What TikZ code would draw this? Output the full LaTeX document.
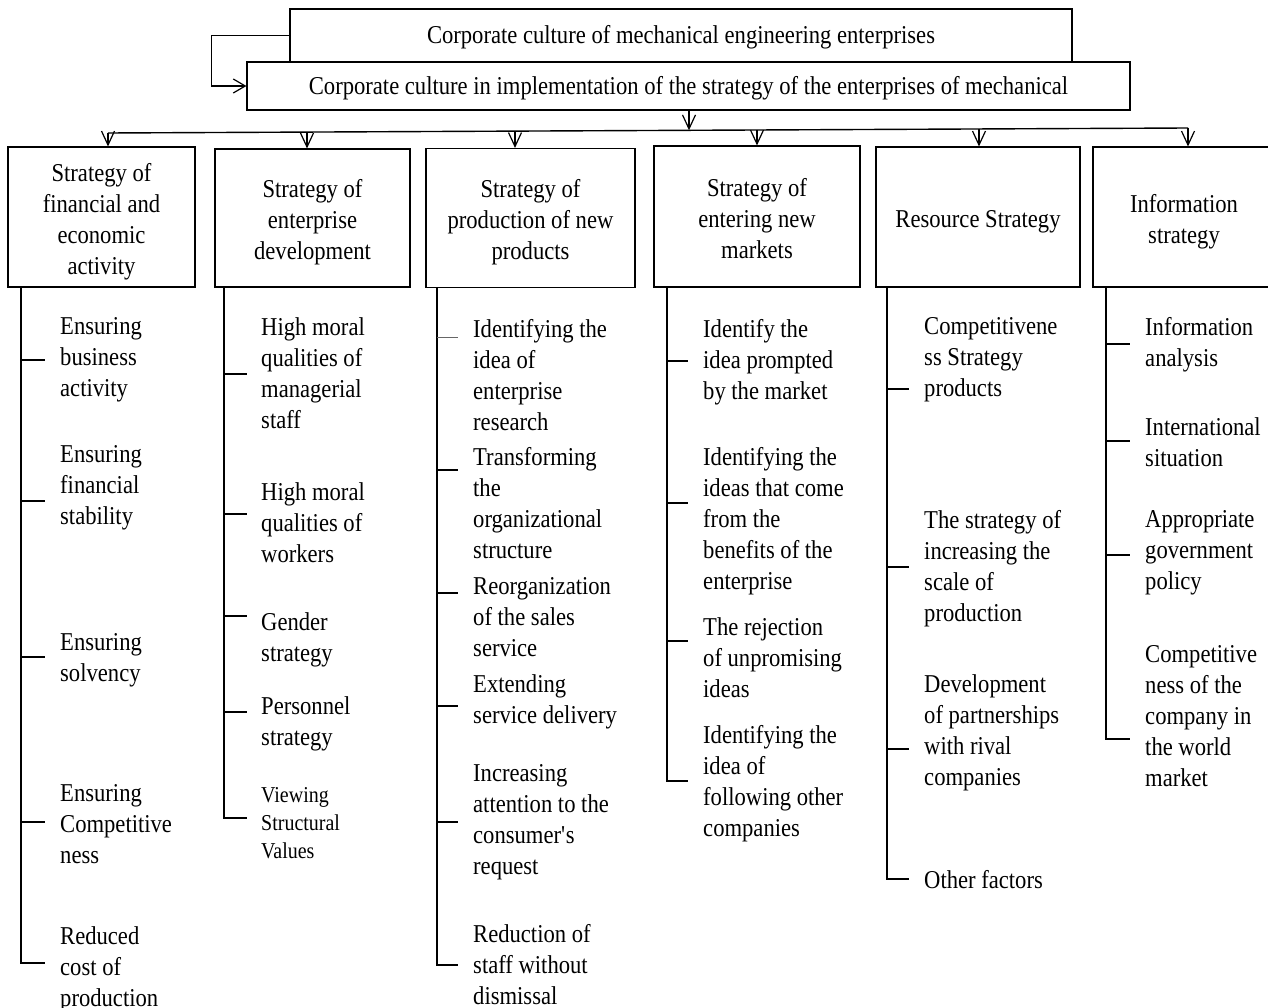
\documentclass[tikz,border=0pt]{standalone}
\usepackage{fontspec}
\setmainfont{Liberation Serif}[FakeStretch=0.88]
\usetikzlibrary{arrows.meta}
\newcommand{\fitem}{\fontsize{25.7}{31}\selectfont}
\newcommand{\fsmall}{\fontsize{22.7}{28}\selectfont}
\newcommand{\hd}[1]{\begin{tabular}{@{}c@{}}\rule{0pt}{30.7pt}#1\end{tabular}}
\begin{document}
\begin{tikzpicture}[x=1pt,y=-1pt,
  box/.style={draw, line width=1.1pt, inner sep=0pt, font=\fitem},
  topbox/.style={draw, line width=1.1pt, inner sep=0pt, align=center, font=\fitem, fill=white, execute at begin node={\rule{0pt}{22pt}}},
  itm/.style={anchor=north west, inner sep=0pt, align=left, font=\fitem, yshift=17.7pt, execute at begin node=\strut},
  itms/.style={anchor=north west, inner sep=0pt, align=left, font=\fsmall, yshift=15.6pt, execute at begin node=\strut},
  spine/.style={line width=1.4pt},
  tip/.style={line width=1.2pt, -{Straight Barb[length=14pt,width=13pt]}}]
\useasboundingbox (0,0) rectangle (1268,1008);

% top boxes
\node[topbox, minimum width=782, minimum height=53] (t1) at (681,35.5) {Corporate culture of mechanical engineering enterprises};
\node[topbox, minimum width=883, minimum height=48] (t2) at (688.5,86) {Corporate culture in implementation of the strategy of the enterprises of mechanical};
\draw[line width=1.2pt, -{Straight Barb[length=12pt,width=14pt]}] (t1.west) -- ++(-78,0) |- (t2.west);

% strategy boxes
\node[box, minimum width=187, minimum height=140] (h1) at (101.5,217) {\hd{Strategy of\\financial and\\economic\\activity}};
\node[box, minimum width=195, minimum height=138] (h2) at (312.5,218) {\hd{Strategy of\\enterprise\\development}};
\node[box, minimum width=209, minimum height=139] (h3) at (530.5,218) {\hd{Strategy of\\production of new\\products}};
\node[box, minimum width=206, minimum height=141] (h4) at (757,216.5) {\hd{Strategy of\\entering new\\markets}};
\node[box, minimum width=204, minimum height=140] (h5) at (978,217) {\hd{Resource Strategy}};
\node[box, minimum width=182, minimum height=140] (h6) at (1184,217) {\hd{Information\\strategy}};

% bus
\coordinate (b1) at (108,133);
\coordinate (b2) at (307,132.1);
\coordinate (b3) at (515,131.1);
\coordinate (bm) at (689,130.3);
\coordinate (b4) at (757,130);
\coordinate (b5) at (979,129);
\coordinate (b6) at (1188,128);
\draw[spine] (b1) -- (b6);
\draw[tip] (t2.south -| bm) -- (bm);
\foreach \b/\h in {b1/h1,b2/h2,b3/h3,b4/h4,b5/h5,b6/h6}
  \draw[tip] (\b) -- (\b |- \h.north);

% spines
\coordinate (s1) at (21,963);
\coordinate (s2) at (224,818);
\coordinate (s3) at (437,965);
\coordinate (s4) at (667,781);
\coordinate (s5) at (887,879);
\coordinate (s6) at (1106,739);
\draw[spine] (h1.south -| s1) -- (s1) -- ++(24,0);
\draw[spine] (h2.south -| s2) -- (s2) -- ++(23,0);
\draw[spine] (h3.south -| s3) -- (s3) -- ++(21,0);
\draw[spine] (h4.south -| s4) -- (s4) -- ++(21,0);
\draw[spine] (h5.south -| s5) -- (s5) -- ++(22,0);
\draw[spine] (h6.south -| s6) -- (s6) -- ++(24,0);
\foreach \y in {360,501,657,822} \draw[spine] (21,\y) -- (45,\y);
\foreach \y in {374,514,616,712} \draw[spine] (224,\y) -- (247,\y);
\draw[line width=0.8pt, black!60] (437,337) -- (458,337);
\foreach \y in {470,593,706,822} \draw[spine] (437,\y) -- (458,\y);
\foreach \y in {361,503,641} \draw[spine] (667,\y) -- (688,\y);
\foreach \y in {389,567,749} \draw[spine] (887,\y) -- (909,\y);
\foreach \y in {344,441,555} \draw[spine] (1106,\y) -- (1130,\y);

% column 1
\node[itm] (a1) at (60,335) {Ensuring\\business\\activity};
\node[itm] (a2) at (60,463) {Ensuring\\financial\\stability};
\node[itm] (a3) at (60,651) {Ensuring\\solvency};
\node[itm] (a4) at (60,802) {Ensuring\\Competitive\\ness};
\node[itm] (a5) at (60,944) {Reduced\\cost of\\production};
% column 2
\node[itm] (c1) at (261,335) {High moral\\qualities of\\managerial\\staff};
\node[itm] (c2) at (261,500) {High moral\\qualities of\\workers};
\node[itm] (c3) at (261,630) {Gender\\strategy};
\node[itm] (c4) at (261,714) {Personnel\\strategy};
\node[itms] (c5) at (261,803) {Viewing\\Structural\\Values};
% column 3
\node[itm] (d1) at (473,337) {Identifying the\\idea of\\enterprise\\research};
\node[itm] (d2) at (473,465) {Transforming\\the\\organizational\\structure};
\node[itm] (d3) at (473,595) {Reorganization\\of the sales\\service};
\node[itm] (d4) at (473,692) {Extending\\service delivery};
\node[itm] (d5) at (473,782) {Increasing\\attention to the\\consumer\textquotesingle s\\request};
\node[itm] (d6) at (473,942) {Reduction of\\staff without\\dismissal};
% column 4
\node[itm] (e1) at (703,337) {Identify the\\idea prompted\\by the market};
\node[itm] (e2) at (703,465) {Identifying the\\ideas that come\\from the\\benefits of the\\enterprise};
\node[itm] (e3) at (703,635) {The rejection\\of unpromising\\ideas};
\node[itm] (e4) at (703,743) {Identifying the\\idea of\\following other\\companies};
% column 5
\node[itm] (f1) at (924,335) {Competitivene\\ss Strategy\\products};
\node[itm] (f2) at (924,528) {The strategy of\\increasing the\\scale of\\production};
\node[itm] (f3) at (924,692) {Development\\of partnerships\\with rival\\companies};
\node[itm] (f4) at (924,884) {Other factors};
% column 6
\node[itm] (g1) at (1145,335) {Information\\analysis};
\node[itm] (g2) at (1145,435) {International\\situation};
\node[itm] (g3) at (1145,528) {Appropriate\\government\\policy};
\node[itm] (g4) at (1145,663) {Competitive\\ness of the\\company in\\the world\\market};
\end{tikzpicture}
\end{document}
